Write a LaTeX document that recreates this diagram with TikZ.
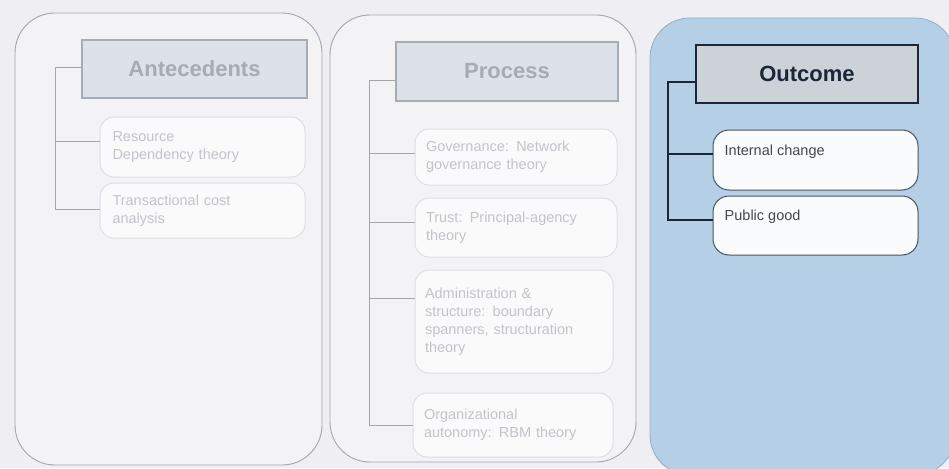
\documentclass[tikz,border=0pt]{standalone}
\usepackage{fontspec}
\setmainfont{Liberation Sans}
\usetikzlibrary{calc}

\definecolor{bgc}{HTML}{EFEFF3}
\definecolor{fadepanel}{HTML}{F3F3F6}
\definecolor{fadeline}{HTML}{A4A6AC}
\definecolor{fadebox}{HTML}{DEDFE4}
\definecolor{fadetext}{HTML}{C3C4CA}
\definecolor{fadehdrfill}{HTML}{DDE2E9}
\definecolor{fadehdrline}{HTML}{A6ACB6}
\definecolor{fadehdrtext}{HTML}{A6ABB4}
\definecolor{bluepanel}{HTML}{B5D0E6}
\definecolor{bluepanelline}{HTML}{8FAFC8}
\definecolor{hdrfill}{HTML}{CDD2D8}
\definecolor{navy}{HTML}{1B2638}
\definecolor{childline}{HTML}{4C525C}

\tikzset{
  panel/.style={draw=fadeline, line width=0.9pt, fill=fadepanel, rounded corners=40pt, inner sep=0pt},
  bluebox/.style={draw=bluepanelline, line width=0.8pt, fill=bluepanel, rounded corners=40pt, inner sep=0pt},
  fadehdr/.style={draw=fadehdrline, line width=1.2pt, fill=fadehdrfill, font=\bfseries\fontsize{22}{24}\selectfont, text=fadehdrtext, inner sep=0pt},
  mainhdr/.style={draw=navy, line width=2.2pt, fill=hdrfill, font=\bfseries\fontsize{22}{24}\selectfont, text=navy, inner sep=0pt},
  fadechild/.style={draw=fadebox, line width=1pt, fill=white!60!fadepanel, rounded corners=14pt,
    font=\fontsize{14.5}{18}\selectfont, text=fadetext, align=left, inner sep=0pt},
  mainchild/.style={draw=childline, line width=1pt, fill=white!92!bluepanel, rounded corners=16pt, inner sep=0pt},
  childtext/.style={font=\fontsize{14.5}{18}\selectfont, text=black!72, inner sep=0pt, anchor=north west},
  fadelink/.style={draw=fadeline, line width=1pt},
  mainlink/.style={draw=navy, line width=1.6pt},
}

\begin{document}
\begin{tikzpicture}[x=1pt,y=-1pt]
\useasboundingbox (0,0) rectangle (949,468);
\fill[bgc] (0,0) rectangle (949,468);

% three column panels
\node[panel, minimum width=307pt, minimum height=452pt] (pA) at (168.5,239) {};
\node[panel, minimum width=306pt, minimum height=447pt] (pP) at (483,238.5) {};
\begin{scope}
\clip (0,0) rectangle (949,468);
\node[bluebox, minimum width=305pt, minimum height=457pt] (pO) at (802.5,246.5) {};
\end{scope}

% ---- Antecedents column ----
\node[fadehdr, minimum width=225pt, minimum height=58pt] (hdrA) at (194.5,69) {Antecedents};
\node[fadechild, minimum width=205pt, minimum height=60pt, text width=180pt] (chA1) at (202.5,147)
  {Resource\\Dependency theory};
\node[fadechild, minimum width=205pt, minimum height=55pt, text width=180pt] (chA2) at (202.5,210.5)
  {Transactional cost\\analysis};
\coordinate (jA0) at (55,68);
\coordinate (jA1) at (55,141);
\coordinate (jA2) at (55,209);
\draw[fadelink] (jA0 -| hdrA.west) -- (jA0) -- (jA2) -- (jA2 -| chA2.west);
\draw[fadelink] (jA1) -- (jA1 -| chA1.west);

% ---- Process column ----
\node[fadehdr, minimum width=222pt, minimum height=59pt] (hdrP) at (507,71.5) {Process};
\node[fadechild, minimum width=202pt, minimum height=56pt, text width=180pt] (chP1) at (516,157)
  {Governance: Network\\governance theory};
\node[fadechild, minimum width=202pt, minimum height=59pt, text width=180pt] (chP2) at (516,227.5)
  {Trust: Principal-agency\\theory};
\node[fadechild, minimum width=198pt, minimum height=103pt, text width=178pt] (chP3) at (514,321.5)
  {Administration \&\\structure: boundary\\spanners, structuration\\theory};
\node[fadechild, minimum width=200pt, minimum height=64pt, text width=178pt] (chP4) at (513,425)
  {Organizational\\autonomy: RBM theory};
\coordinate (jP0) at (369,81);
\coordinate (jP1) at (369,153);
\coordinate (jP2) at (369,222);
\coordinate (jP3) at (369,298);
\coordinate (jP4) at (369,425);
\draw[fadelink] (jP0 -| hdrP.west) -- (jP0) -- (jP4) -- (jP4 -| chP4.west);
\draw[fadelink] (jP1) -- (jP1 -| chP1.west);
\draw[fadelink] (jP2) -- (jP2 -| chP2.west);
\draw[fadelink] (jP3) -- (jP3 -| chP3.west);

% ---- Outcome column ----
\node[mainhdr, minimum width=222pt, minimum height=58pt] (hdrO) at (807,74) {Outcome};
\node[mainchild, minimum width=205pt, minimum height=60pt] (chO1) at (815.5,160) {};
\node[mainchild, minimum width=205pt, minimum height=59pt] (chO2) at (815.5,225.5) {};
\node[childtext] (tO1) at ($(chO1.north west)+(12,15)$) {Internal change};
\node[childtext] (tO2) at ($(chO2.north west)+(12,14)$) {Public good};
\coordinate (jO0) at (668,82);
\coordinate (jO1) at (668,154);
\coordinate (jO2) at (668,220);
\draw[mainlink] (jO0 -| hdrO.west) -- (jO0) -- (jO2) -- (jO2 -| chO2.west);
\draw[mainlink] (jO1) -- (jO1 -| chO1.west);
\end{tikzpicture}
\end{document}
